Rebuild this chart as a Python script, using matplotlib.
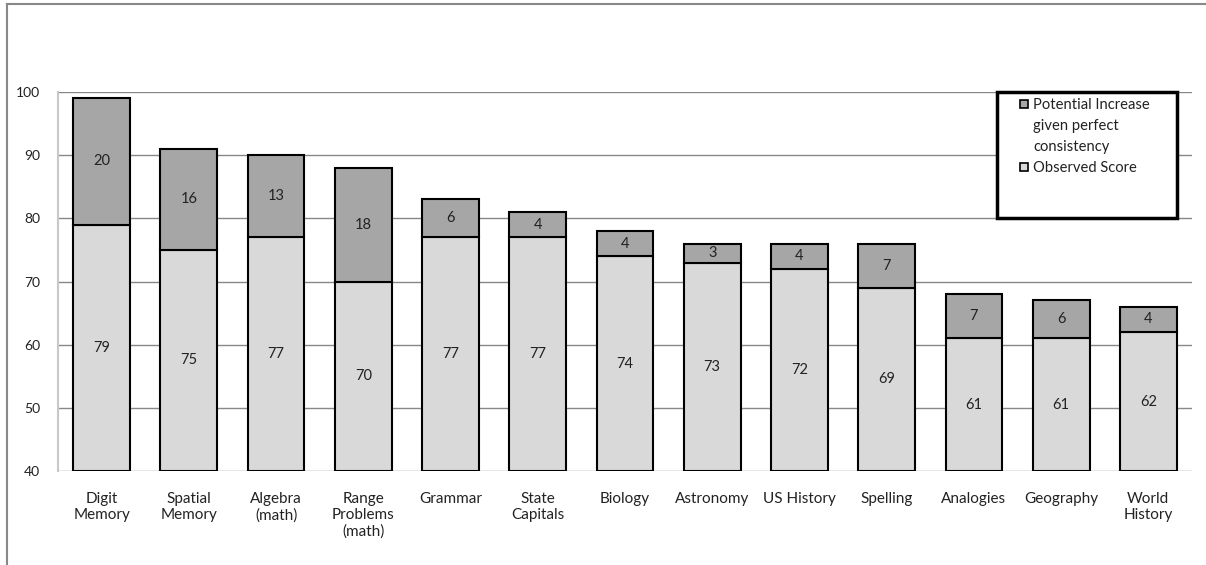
import matplotlib.pyplot as plt
from matplotlib.patches import Rectangle

categories = ["Digit\nMemory", "Spatial\nMemory", "Algebra\n(math)", "Range\nProblems\n(math)",
              "Grammar", "State\nCapitals", "Biology", "Astronomy", "US History",
              "Spelling", "Analogies", "Geography", "World\nHistory"]
observed = [79, 75, 77, 70, 77, 77, 74, 73, 72, 69, 61, 61, 62]
increase = [20, 16, 13, 18, 6, 4, 4, 3, 4, 7, 7, 6, 4]
legend_labels = ["Potential Increase\ngiven perfect\nconsistency", "Observed Score"]
obs_color, inc_color = '#d9d9d9', '#a6a6a6'

plt.rcParams['font.family'] = ['Lato', 'DejaVu Sans']

W, H = 1206, 565
fig = plt.figure(figsize=(W / 100, H / 100), dpi=100)
ax = fig.add_axes([58 / W, 1 - 471 / H, (1192 - 58) / W, (471 - 92) / H])

x = list(range(len(categories)))
base = 40
width = 0.65
obs_h = [v - base for v in observed]
ax.bar(x, obs_h, width, bottom=base, color=obs_color, edgecolor='black', linewidth=1.5, zorder=3)
ax.bar(x, increase, width, bottom=observed, color=inc_color, edgecolor='black', linewidth=1.5, zorder=3)

for i in x:
    ax.text(i, (base + observed[i]) / 2, str(observed[i]), ha='center', va='center', fontsize=10.5,
            color='#222222', zorder=4)
    ax.text(i, observed[i] + increase[i] / 2, str(increase[i]), ha='center', va='center', fontsize=10.5,
            color='#222222', zorder=4)

ax.set_xlim(-0.5, 12.5)
ax.set_ylim(40, 100)
ax.set_yticks(range(40, 101, 10))
ax.yaxis.grid(True, color='#888888', linewidth=1)
ax.set_axisbelow(True)
for s in ['top', 'right', 'bottom']:
    ax.spines[s].set_visible(False)
ax.spines['left'].set_color('#c8c8c8')
ax.spines['left'].set_linewidth(1.5)
ax.tick_params(axis='y', length=0, pad=13, labelsize=10)
ax.tick_params(axis='x', length=0, pad=15, labelsize=11)
ax.set_xticks(x)
ax.set_xticklabels(categories, linespacing=1.2, va='top')
for t in ax.get_yticklabels() + ax.get_xticklabels():
    t.set_color('#222222')

# outer chart border
fig.add_artist(plt.Line2D([7 / W, 7 / W], [0, 1 - 4 / H], transform=fig.transFigure, color='#888888', lw=1.5))
fig.add_artist(plt.Line2D([7 / W, 1], [1 - 4 / H, 1 - 4 / H], transform=fig.transFigure, color='#888888', lw=1.5))

# legend box, drawn by hand so the marker sits on the first text line
fig.add_artist(Rectangle((997 / W, 1 - 218 / H), 180 / W, 126 / H, transform=fig.transFigure,
                         facecolor='white', edgecolor='black', linewidth=2.5, zorder=5))
for lab, col, ymid in zip(legend_labels, [inc_color, obs_color], [104, 167]):
    fig.add_artist(Rectangle((1020 / W, 1 - (ymid + 4) / H), 8 / W, 8 / H, transform=fig.transFigure,
                             facecolor=col, edgecolor='black', linewidth=1.2, zorder=6))
    fig.text(1033 / W, 1 - (ymid - 6) / H, lab, fontsize=10.6, va='top', ha='left', multialignment='left',
             linespacing=1.62, color='#222222', zorder=6)

fig.savefig('out.png', dpi=100)
